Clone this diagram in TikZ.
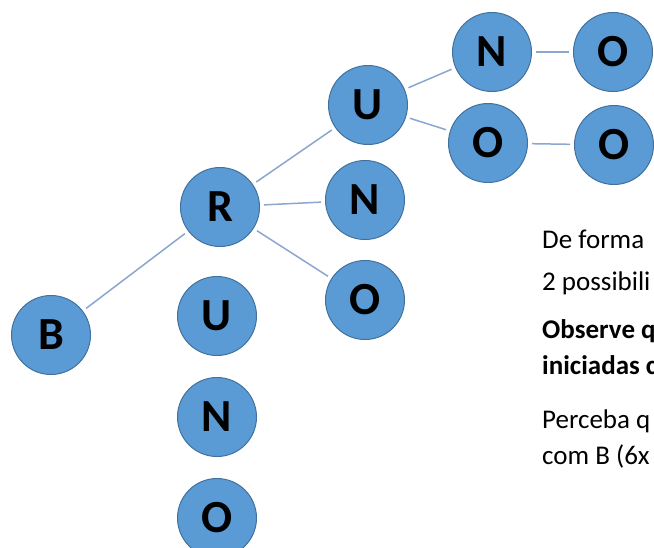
\documentclass[tikz,border=0pt]{standalone}
\usepackage{fontspec}
\setmainfont{Carlito}
\usetikzlibrary{positioning}

\definecolor{nodeblue}{HTML}{5B9BD5}
\definecolor{nodeedge}{HTML}{41719C}
\definecolor{linkblue}{HTML}{8BA6CF}

\begin{document}
\begin{tikzpicture}[
	%	style def
    x=1pt, y=-1pt,
    letter node/.style={circle, draw=nodeedge, line width=1pt, fill=nodeblue,
        minimum size=79pt, inner sep=0pt, font=\fontsize{46}{46}\selectfont\bfseries},
    tree line/.style={linkblue, line width=1.5pt, shorten <=4pt, shorten >=4pt},
    note/.style={anchor=base west, inner sep=0pt, font=\fontsize{27}{32}\selectfont},
    bold note/.style={note, font=\fontsize{27}{32}\selectfont\bfseries}
    ]
    \useasboundingbox (0,0) rectangle (654,547);
    \clip (0,0) rectangle (654,547);

    % first letter and second level
    \node[letter node] (B) at (51,335) {B};
    \node[letter node] (R) at (220,207) {R};
    \node[letter node] (RN) at (365,200) {N};
    \node[letter node] (RO) at (365,300) {O};

    % U branch
    \node[letter node] (RU) at (368,105) {U};
    \node[letter node] (UN) at (492,52) {N};
    \node[letter node] (UO) at (488,143) {O};
    \node[letter node] (UNO) at (613,52) {O};
    \node[letter node] (UOO) at (614,145) {O};

    % column below R
    \node[letter node] (colU) at (217,316) {U};
    \node[letter node, below=21pt of colU] (colN) {N};
    \node[letter node, below=21pt of colN] (colO) {O};

    % connecting the letters
    \draw[tree line] (B) -- (R);
    \draw[tree line] (R) -- (RU);
    \draw[tree line] (R) -- (RN);
    \draw[tree line] (R) -- (RO);
    \draw[tree line] (RU) -- (UN);
    \draw[tree line] (RU) -- (UO);
    \draw[tree line] (UN) -- (UNO);
    \draw[tree line] (UO) -- (UOO);

    % text beside the tree (cut at the border)
    \node[note] (t1) at (542,248) {De forma};
    \node[note] (t2) at (542,290) {2 possibili};
    \node[bold note] (t3) at (542,338) {Observe q};
    \node[bold note] (t4) at (542,374) {iniciadas c};
    \node[note] (t5) at (542,428) {Perceba q};
    \node[note] (t6) at (542,464) {com B (6x};

\end{tikzpicture}
\end{document}
